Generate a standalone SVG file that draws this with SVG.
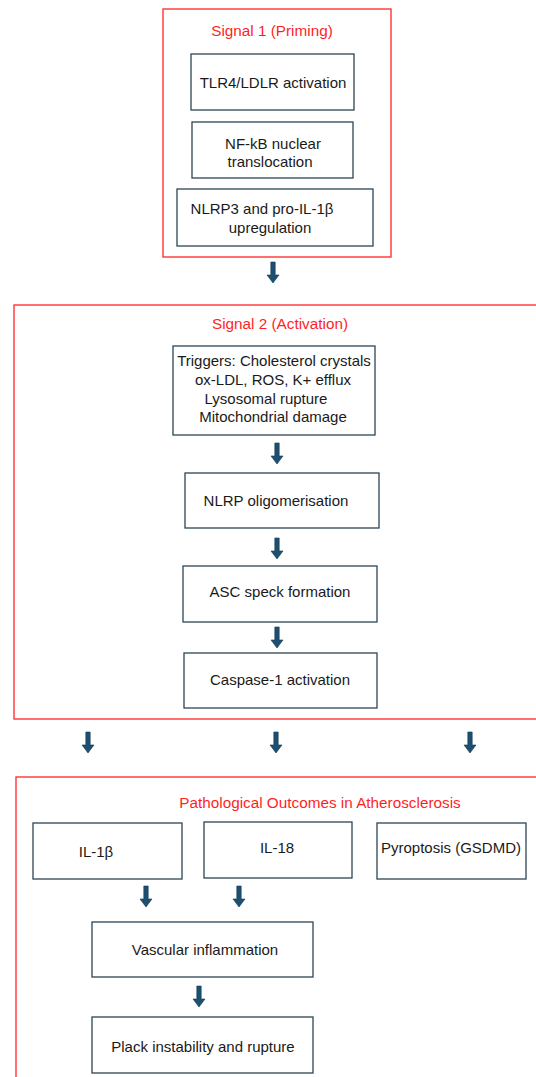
<svg xmlns="http://www.w3.org/2000/svg" xmlns:xlink="http://www.w3.org/1999/xlink" width="536" height="1077" viewBox="0 0 536 1077">
<style>
.bg{fill:#ffffff}
.panel{fill:none;stroke:#ff3333;stroke-width:1.4}
.box{fill:#ffffff;stroke:#2c4656;stroke-width:1.3}
.t{font-family:"Liberation Sans",Arial,sans-serif;font-size:15px;fill:#1a1a1a;text-anchor:middle}
.title{font-family:"Liberation Sans",Arial,sans-serif;font-size:15.3px;fill:#ff1f1f;text-anchor:middle}
.arr{fill:#1d5070;stroke:#123a55;stroke-width:0.6}
</style>
<defs>
<path id="arrow" class="arr" d="M-2.2,0 H2.2 V13 H6 L0,21 L-6,13 H-2.2 Z"/>
</defs>
<rect class="bg" x="0" y="0" width="536" height="1077"/>

<g id="signal1">
<rect class="panel" x="163" y="9" width="228" height="248"/>
<text class="title" x="272" y="36">Signal 1 (Priming)</text>
</g>
<g id="tlr4">
<rect class="box" x="191" y="54" width="163" height="56"/>
<text class="t" x="273" y="88">TLR4/LDLR activation</text>
</g>
<g id="nfkb">
<rect class="box" x="192" y="122" width="161" height="56"/>
<text class="t" x="273" y="149">NF-kB nuclear</text>
<text class="t" x="270" y="167">translocation</text>
</g>
<g id="nlrp3">
<rect class="box" x="177" y="189" width="196" height="57"/>
<text class="t" x="262" y="214">NLRP3 and pro-IL-1β</text>
<text class="t" x="270" y="233">upregulation</text>
</g>

<g id="signal2">
<rect class="panel" x="14" y="305" width="540" height="414"/>
<text class="title" x="280" y="329">Signal 2 (Activation)</text>
</g>
<g id="triggers">
<rect class="box" x="173" y="346" width="202" height="89"/>
<text class="t" x="274" y="366">Triggers: Cholesterol crystals</text>
<text class="t" x="273" y="385">ox-LDL, ROS, K+ efflux</text>
<text class="t" x="266" y="404">Lysosomal rupture</text>
<text class="t" x="273" y="422">Mitochondrial damage</text>
</g>
<g id="oligomerisation">
<rect class="box" x="185" y="473" width="194" height="55"/>
<text class="t" x="276" y="506">NLRP oligomerisation</text>
</g>
<g id="asc">
<rect class="box" x="183" y="566" width="194" height="56"/>
<text class="t" x="280" y="597">ASC speck formation</text>
</g>
<g id="caspase">
<rect class="box" x="184" y="653" width="193" height="55"/>
<text class="t" x="280" y="685">Caspase-1 activation</text>
</g>

<g id="outcomes">
<rect class="panel" x="16" y="777" width="540" height="320"/>
<text class="title" x="320" y="808">Pathological Outcomes in Atherosclerosis</text>
</g>
<g id="il1b">
<rect class="box" x="33" y="823" width="149" height="56"/>
<text class="t" x="96" y="857">IL-1β</text>
</g>
<g id="il18">
<rect class="box" x="204" y="822" width="148" height="56"/>
<text class="t" x="277" y="853">IL-18</text>
</g>
<g id="pyroptosis">
<rect class="box" x="377" y="823" width="149" height="56"/>
<text class="t" x="451" y="853">Pyroptosis (GSDMD)</text>
</g>
<g id="vascular">
<rect class="box" x="92" y="922" width="221" height="55"/>
<text class="t" x="205" y="955">Vascular inflammation</text>
</g>
<g id="plack">
<rect class="box" x="92" y="1017" width="221" height="56"/>
<text class="t" x="203" y="1052">Plack instability and rupture</text>
</g>

<g id="connectors">
<use xlink:href="#arrow" href="#arrow" x="273" y="262"/>
<use xlink:href="#arrow" href="#arrow" x="277" y="443"/>
<use xlink:href="#arrow" href="#arrow" x="277" y="538"/>
<use xlink:href="#arrow" href="#arrow" x="277" y="627"/>
<use xlink:href="#arrow" href="#arrow" x="88" y="732"/>
<use xlink:href="#arrow" href="#arrow" x="276" y="732"/>
<use xlink:href="#arrow" href="#arrow" x="470" y="732"/>
<use xlink:href="#arrow" href="#arrow" x="146" y="886"/>
<use xlink:href="#arrow" href="#arrow" x="239" y="886"/>
<use xlink:href="#arrow" href="#arrow" x="199" y="986"/>
</g>
</svg>
